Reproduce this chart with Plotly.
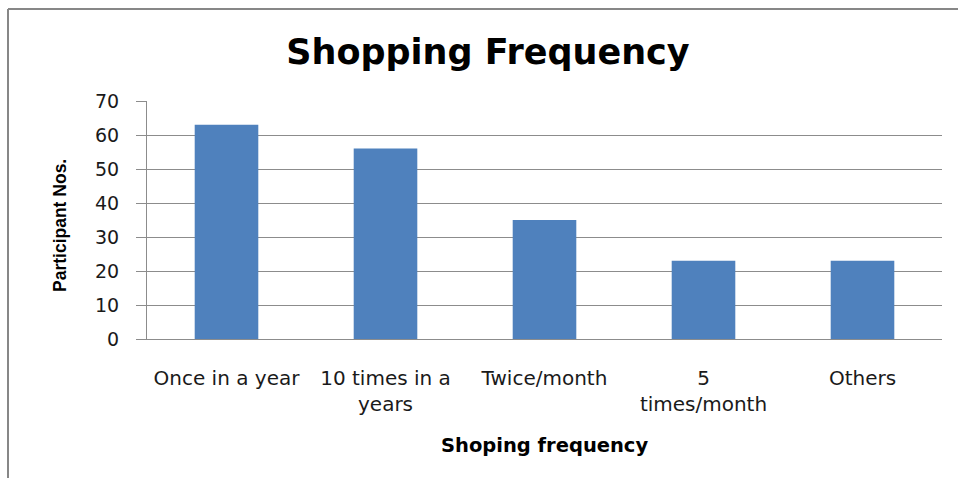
import plotly.graph_objects as go

# Survey data: how often participants go shopping
categories = ["Once in a year", "10 times in a<br>years", "Twice/month", "5<br>times/month", "Others"]
participants = [63, 56, 35, 23, 23]
y_ticks = [0, 10, 20, 30, 40, 50, 60, 70]

W, H = 958, 478
L, R, T, B = 147, 16, 101, 139
plot_w = W - L - R
plot_h = H - T - B


def px_to_paper_x(px):
    return (px - L) / plot_w


def px_to_paper_y(py):
    return (H - B - py) / plot_h


grid = "#8c8c8c"
text_col = "#1a1a1a"

fig = go.Figure(
    go.Bar(
        x=categories,
        y=participants,
        marker=dict(color="#4f81bd", line=dict(width=0)),
        hoverinfo="x+y",
    )
)

fig.update_layout(
    width=W,
    height=H,
    margin=dict(l=L, r=R, t=T, b=B),
    paper_bgcolor="white",
    plot_bgcolor="white",
    bargap=0.6,
    showlegend=False,
    title=dict(
        text="<b>Shopping Frequency</b>",
        x=488 / W,
        xanchor="center",
        y=1 - 52 / H,
        yanchor="middle",
        font=dict(family="DejaVu Sans", size=35, color="black"),
    ),
    font=dict(family="DejaVu Sans", color=text_col),
)

fig.update_yaxes(
    range=[0, 70],
    tickvals=y_ticks,
    showgrid=True,
    gridcolor=grid,
    gridwidth=1,
    zeroline=False,
    showline=True,
    linecolor=grid,
    linewidth=1,
    ticks="outside",
    ticklen=10,
    tickcolor=grid,
    ticklabelstandoff=13,
    tickfont=dict(family="DejaVu Sans", size=19, color=text_col),
)

fig.update_xaxes(
    showgrid=False,
    showline=True,
    linecolor=grid,
    linewidth=1,
    ticks="",
    ticklabelstandoff=21,
    tickangle=0,
    tickfont=dict(family="DejaVu Sans", size=20, color=text_col),
)

fig.add_annotation(
    text="<b>Shoping frequency</b>",
    xref="paper", yref="paper",
    x=0.5, y=px_to_paper_y(445),
    xanchor="center", yanchor="middle",
    showarrow=False,
    font=dict(family="DejaVu Sans", size=19.5, color="black"),
)

fig.add_annotation(
    text="<b>Participant Nos.</b>",
    xref="paper", yref="paper",
    x=px_to_paper_x(60), y=px_to_paper_y(226),
    xanchor="center", yanchor="middle",
    textangle=-90,
    showarrow=False,
    font=dict(family="Liberation Sans", size=17.5, color="black"),
)

# Chart frame (left and top edges)
frame = dict(color="#878787", width=2)
fig.add_shape(type="line", xref="paper", yref="paper",
              x0=px_to_paper_x(8), x1=px_to_paper_x(8),
              y0=px_to_paper_y(490), y1=px_to_paper_y(9), line=frame)
fig.add_shape(type="line", xref="paper", yref="paper",
              x0=px_to_paper_x(8), x1=px_to_paper_x(970),
              y0=px_to_paper_y(9), y1=px_to_paper_y(9), line=frame)

fig.write_html("out.html")
